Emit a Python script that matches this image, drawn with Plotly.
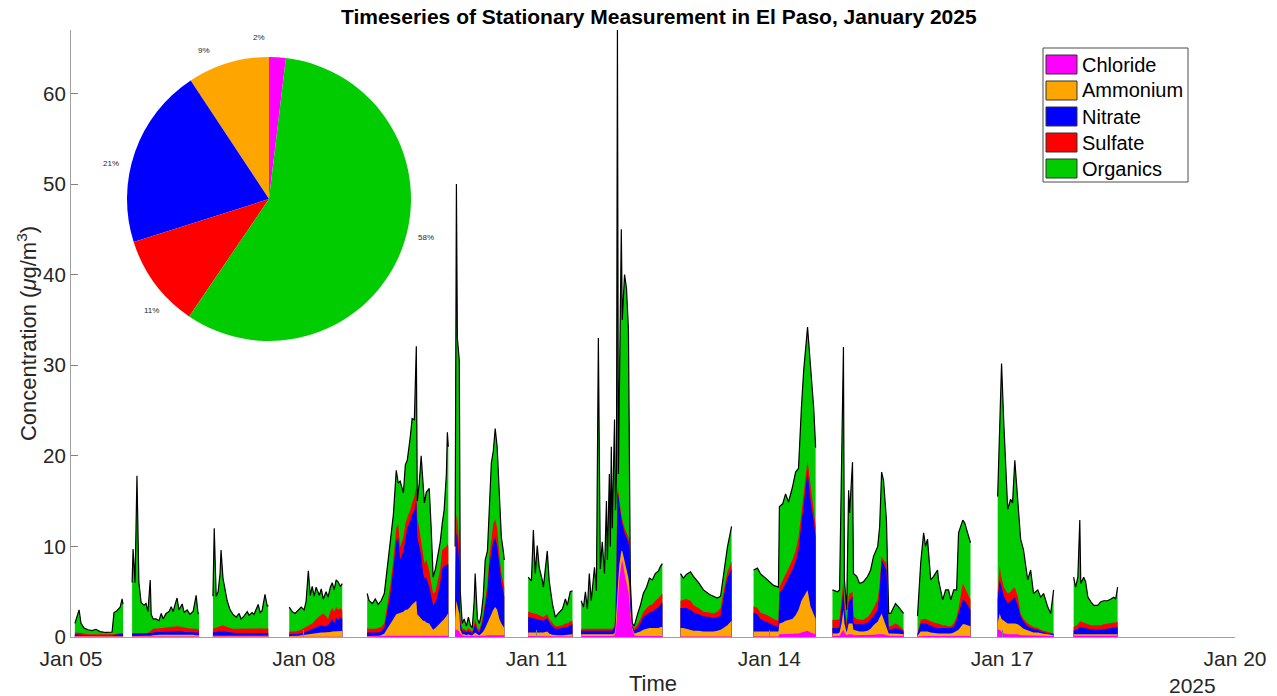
import math
import plotly.graph_objects as go
from datetime import datetime, timedelta

species = ["Chloride", "Ammonium", "Nitrate", "Sulfate", "Organics"]
colors = ["#FF00FF", "#FFA500", "#0000FF", "#FF0000", "#00CC00"]
pie_share = [1.9, 9.3, 20.6, 10.6, 57.6]   # % of mean mass, in species order

X = None  # data gap marker
# hours since 2025-01-05 00:00 (measurement times, segments separated by gaps)
hours = [
    1.2, 2.5, 3.1, 4.0, 5.3, 6.5, 7.7, 9.0, 10.8, 12.7, 13.3, 14.2, 15.2, 15.8, 16.1, X,
    18.9, 19.2, 19.8, 20.4, 21.0, 21.7, 22.6, 23.2, 23.8, 24.5, 24.8, 25.4, 26.3, 27.2, 27.9, 28.5,
    29.4, 30.3, 31.0, 31.6, 32.2, 32.8, 33.4, 34.4, 35.0, 35.9, 36.8, 37.8, 38.7, 39.3, 39.6, X,
    43.9, 44.3, 44.9, 45.5, 46.1, 46.4, 47.0, 47.7, 48.3, 49.2, 50.1, 51.1, 52.0, 52.6, 53.5, 54.5,
    55.1, 56.0, 56.6, 57.3, 57.9, 58.5, 59.1, 60.0, 60.7, 61.0, X,
    67.5, 68.4, 69.3, 70.3, 71.2, 72.1, 72.7, 73.4, 74.0, 74.6, 75.2, 75.8, 76.8, 77.4, 78.0, 78.9,
    79.5, 80.2, 80.8, 81.4, 82.0, 82.6, 83.3, 83.9, X,
    91.6, 92.2, 93.2, 94.1, 95.0, 95.9, 96.9, 97.8, 98.7, 99.7, 100.6, 101.2, 101.8, 102.8, 103.4, 104.0,
    104.9, 105.5, 106.2, 106.8, 107.1, 107.7, 108.3, 108.9, 109.3, 109.9, 110.8, 111.4, 112.0, 112.7,
    113.3, 114.2, 114.8, 115.4, 116.1, 116.4, 116.7, X,
    118.8, 119.2, 119.5, 120.1, 120.4, 121.0, 121.6, 122.3, 122.9, 123.5, 124.1, 124.7, 125.0, 125.7,
    126.3, 126.9, 127.5, 128.1, 128.8, 129.4, 130.0, 130.6, 131.2, 131.8, 132.5, 133.1, 133.7, 134.0, X,
    141.4, 142.4, 143.0, 143.6, 144.2, 144.8, 145.8, 146.1, 147.3, 147.9, 148.9, 149.8, 150.7, 152.0,
    152.9, 153.5, 154.4, 155.1, X,
    157.8, 158.5, 159.1, 159.7, 160.3, 160.9, 161.9, 162.5, 163.1, 163.7, 164.3, 165.0, 165.6, 165.9,
    166.5, 166.8, 167.1, 167.4, 168.1, 168.4, 168.7, 169.0, 169.3, 169.6, 170.2, 170.5, 171.2, 171.8,
    172.4, 172.7, 173.0, 173.6, 174.2, 175.2, 176.1, 177.0, 178.0, 178.9, 179.8, 180.7, 181.7, 182.3, 182.9, X,
    188.5, 189.4, 190.3, 191.6, 192.5, 194.1, 195.6, 197.5, 198.7, 199.9, 200.9, 201.8, 203.0, 204.3, X,
    211.1, 212.3, 213.2, 215.4, 217.3, 218.8, 219.1, 220.1, 221.0, 221.9, 223.1, 224.1, 225.0, 225.9,
    226.6, 227.8, 228.7, 229.7, 230.3, X,
    235.5, 237.1, 237.7, 238.3, 238.9, 239.2, 239.9, 240.5, 240.8, 241.7, 242.0, 243.0, 243.9, 245.1,
    246.4, 247.3, 248.2, 249.5, 250.1, 250.7, 251.3, 252.2, 252.9, 253.5, 255.0, 256.0, 257.5, X,
    261.8, 262.8, 263.7, 264.3, 264.9, 265.9, 266.8, 268.0, 268.3, 269.6, 270.5, 271.4, 272.1, 273.0,
    273.9, 274.5, 275.8, 276.4, 277.3, 278.2, X,
    286.6, 287.2, 287.8, 288.5, 289.7, 290.6, 291.2, 291.9, 292.8, 293.7, 294.6, 295.9, 296.8, 297.7,
    299.0, 299.9, 300.8, 302.1, 303.0, 303.9, X,
    310.1, 310.7, 311.4, 312.0, 312.3, 313.2, 313.8, 314.5, 315.4, 316.3, 317.5, 318.5, 319.4, 320.6,
    321.6, 322.5, 323.1, 323.7,
]

chloride = [
    .05, .05, .05, .04, .03, .03, .03, .02, .02, .02, .02, .02, .02, .02, .02, X,
    .05, .05, .05, .05, .05, .05, .05, .05, .05, .05, .05, .05, .05, .05, .05, .05,
    .05, .05, .05, .05, .05, .05, .05, .05, .05, .05, .05, .05, .05, .05, .05, X,
    .05, .05, .05, .05, .05, .05, .05, .05, .05, .05, .05, .05, .05, .05, .05, .05,
    .05, .05, .05, .05, .05, .05, .05, .05, .05, .05, X,
    .03, .03, .03, .03, .03, .03, .03, .03, .03, .03, .03, .03, .03, .03, .03, .03,
    .03, .03, .03, .03, .03, .03, .03, .03, X,
    .05, .05, .05, .05, .05, .05, .1, .15, .15, .15, .15, .15, .15, .15, .15, .15,
    .15, .15, .15, .15, .15, .15, .15, .15, .15, .15, .15, .15, .1, .1,
    .1, .15, .15, .15, .15, .15, .15, X,
    .8, .8, .8, .6, .4, .2, .1, .1, .1, .1, .1, .1, .1, .1,
    .1, .1, .1, .15, .2, .2, .2, .2, .2, .2, .2, .2, .2, .2, X,
    .1, .1, .1, .1, .1, .1, .1, .1, .1, .1, .05, .05, .05, .05,
    .05, .05, .05, .05, X,
    .1, .1, .1, .1, .1, .1, .1, .1, .1, .1, .1, .1, .1, .1,
    .1, .1, .1, .1, .2, .5, 1.5, 3.0, 5.0, 6.5, 8.0, 8.5, 7.0, 6.0,
    5.0, 4.0, 2.5, .8, .2, .1, .1, .1, .1, .1, .1, .1, .1, .1, .1, X,
    .05, .05, .05, .05, .05, .05, .05, .05, .05, .05, .05, .05, .05, .05, X,
    .05, .05, .05, .05, .05, .05, .3, .3, .3, .3, .35, .4, .4, .5,
    .6, .7, .5, .4, .3, X,
    .1, .1, .15, .5, .8, .5, .2, .3, .3, .3, .2, .2, .2, .2,
    .2, .2, .25, .3, .3, .3, .3, .2, .1, .1, .1, .1, .1, X,
    .05, .1, .1, .1, .1, .1, .1, .1, .1, .1, .1, .1, .1, .1,
    .1, .1, .1, .1, .1, .1, X,
    .8, .8, .6, .4, .3, .3, .3, .3, .3, .2, .2, .2, .2, .2,
    .2, .2, .15, .1, .1, .1, X,
    .15, .15, .15, .15, .15, .15, .15, .15, .15, .15, .15, .15, .15, .15,
    .15, .15, .15, .15,
]

ammonium = [
    .05, .05, .05, .04, .03, .03, .03, .03, .03, .03, .03, .04, .04, .05, .05, X,
    .05, .05, .05, .05, .05, .05, .05, .05, .05, .08, .1, .15, .2, .2, .2, .2,
    .2, .2, .2, .25, .25, .25, .25, .25, .2, .2, .2, .2, .15, .15, .15, X,
    .1, .1, .1, .1, .1, .1, .1, .1, .1, .1, .1, .1, .1, .1, .1, .1,
    .1, .1, .1, .1, .1, .1, .1, .1, .1, .1, X,
    .07, .07, .07, .12, .17, .22, .27, .27, .32, .32, .37, .37, .42, .47, .47, .47,
    .47, .52, .57, .57, .57, .62, .62, .62, X,
    .05, .05, .05, .1, .1, .15, .3, .75, 1.35, 1.85, 2.35, 2.45, 2.55, 2.65, 2.85, 2.85,
    3.15, 3.45, 3.65, 3.85, 2.35, 2.15, 1.85, 1.65, 1.65, 1.45, 1.35, 1.05, .7, .9,
    1.1, 1.35, 1.65, 1.85, 2.15, 2.35, 2.35, X,
    1.2, 3.2, 2.7, 1.9, .4, .1, .2, .1, .2, .1, .1, .3, .4, .2,
    .1, .3, .5, .85, 1.3, 1.8, 2.3, 2.8, 3.1, 2.8, 1.8, 1.3, 1.0, .8, X,
    .4, .4, .4, .4, .4, .4, .4, .4, .5, .3, .2, .15, .15, .15,
    .2, .2, .25, .25, X,
    .2, .2, .2, .2, .2, .2, .2, .2, .2, .2, .2, .2, .2, .2,
    .2, .2, .2, .2, .2, .5, 1.5, 2.5, 1.5, 1.5, 1.5, 1.0, 1.5, 1.5,
    1.5, 1.5, .5, .2, .2, .4, .5, .7, .8, .9, .9, .9, .9, 1.0, 1.0, X,
    .95, .95, .85, .75, .65, .65, .55, .55, .55, .65, .75, .95, 1.25, 1.75, X,
    .55, .55, .55, .55, .55, .55, 1.2, 1.3, 1.5, 1.6, 1.65, 2.0, 2.6, 3.5,
    3.9, 4.5, 2.9, 2.2, 1.7, X,
    .3, .3, .35, 1.0, 2.2, 1.0, .3, 1.2, 1.2, 1.2, .6, .5, .4, .4,
    .5, .7, 1.05, 1.4, 1.9, 2.3, 1.7, 1.0, .3, .3, .3, .25, .2, X,
    .1, .5, .5, .5, .5, .4, .35, .3, .3, .3, .3, .3, .3, .4,
    .6, .7, 1.3, 1.3, 1.2, 1.1, X,
    .7, 1.8, 1.4, 1.4, 1.2, 1.2, 1.2, 1.2, 1.1, 1.0, .7, .5, .4, .3,
    .3, .2, .2, .2, .15, .1, X,
    .15, .15, .15, .2, .2, .15, .15, .15, .15, .15, .15, .15, .15, .15,
    .15, .15, .15, .15,
]

nitrate = [
    .2, .2, .15, .12, .09, .09, .09, .08, .08, .1, .17, .22, .27, .31, .31, X,
    .25, .25, .25, .25, .25, .25, .25, .25, .25, .3, .3, .3, .3, .3, .3, .3,
    .35, .35, .35, .35, .35, .4, .35, .35, .3, .3, .3, .3, .3, .3, .3, X,
    .35, .35, .4, .45, .45, .5, .5, .45, .4, .35, .3, .3, .3, .3, .3, .3,
    .3, .3, .3, .3, .3, .3, .3, .3, .3, .3, X,
    .2, .2, .2, .2, .2, .25, .3, .4, .45, .55, .6, .7, .75, .8, .7, .7,
    .8, 1.15, 1.4, .9, 1.5, 1.25, 1.55, 1.35, X,
    .4, .4, .4, .35, .35, .4, .6, 1.9, 3.0, 5.5, 8.0, 8.4, 5.8, 6.7, 8.0, 9.0,
    9.5, 9.9, 10.2, 11.0, 8.5, 7.7, 7.0, 5.2, 4.7, 4.9, 4.0, 3.3, 2.7, 2.8,
    3.3, 4.5, 5.7, 5.8, 5.7, 5.5, 5.5, X,
    1.5, 7.5, 7.5, 5.5, .7, .4, .4, .3, .4, .3, .2, .6, 1.0, .4,
    .3, .8, 1.4, 2.5, 3.5, 6.0, 7.0, 7.5, 7.7, 7.0, 6.0, 4.5, 3.8, 3.5, X,
    1.7, 1.6, 1.6, 1.5, 1.5, 1.4, 1.3, 1.3, 1.5, 1.2, .9, .7, .7, .8,
    .85, .85, 1.0, 1.1, X,
    .4, .4, .4, .4, .4, .4, .4, .4, .4, .4, .4, .4, .4, .4,
    .4, .4, .4, .4, .6, 1.5, 4.5, 10.5, 9.0, 6.5, 3.5, 3.0, 3.0, 3.5,
    4.0, 4.0, 1.5, .2, .3, .5, .9, 1.4, 1.6, 1.7, 1.8, 2.0, 2.3, 2.5, 2.7, X,
    2.2, 2.2, 2.3, 2.2, 2.0, 1.8, 1.7, 1.6, 1.5, 1.5, 1.5, 3.3, 5.2, 5.7, X,
    2.1, 1.9, 1.4, 1.0, .7, .5, 3.3, 3.7, 4.1, 4.6, 5.4, 5.9, 6.6, 8.5,
    9.9, 13.2, 11.7, 10.2, 9.0, X,
    .6, .6, .6, 1.5, 2.2, 1.5, .5, 2.3, 2.5, 3.0, .7, .7, .8, .8,
    .9, 1.0, 1.0, 1.3, 2.8, 5.9, 6.0, 6.2, .4, .4, .6, .55, .3, X,
    .15, .9, .9, .9, .8, .7, .65, .6, .6, .6, .6, .6, .6, .6,
    1.1, 1.8, 2.7, 2.6, 2.2, 1.8, X,
    2.6, 3.7, 3.5, 2.7, 2.2, 2.5, 2.7, 2.9, 2.1, 1.1, .8, .5, .4, .4,
    .3, .2, .15, .1, .1, .1, X,
    .4, .5, .6, .75, .75, .7, .7, .6, .55, .5, .5, .5, .55, .6,
    .7, .75, .75, .8,
]

sulfate = [
    .2, .2, .2, .2, .15, .15, .15, .12, .12, .1, .08, .07, .07, .07, .07, X,
    .1, .1, .1, .1, .1, .1, .1, .1, .1, .2, .3, .4, .4, .4, .45, .45,
    .45, .5, .5, .55, .55, .5, .5, .45, .45, .4, .4, .4, .4, .35, .35, X,
    .4, .45, .5, .5, .55, .6, .65, .6, .55, .5, .45, .45, .45, .45, .45, .45,
    .5, .5, .5, .5, .5, .5, .5, .5, .5, .5, X,
    .3, .3, .3, .35, .4, .5, .5, .6, .6, .6, .7, .9, 1.1, 1.2, 1.4, 1.1,
    .7, 1.1, 1.2, 1.3, 1.2, 1.1, 1.0, .9, X,
    .5, .4, .4, .4, .5, .5, .5, .7, 1.1, 1.0, 1.5, 1.5, 1.5, 1.5, 1.5, 1.2,
    1.2, 1.3, 1.5, 1.6, 2.0, 2.0, 1.7, 2.0, 1.6, 2.0, 1.8, 1.5, 1.3, 1.2,
    1.4, 1.5, 2.1, 2.0, 2.0, 2.3, 2.0, X,
    1.5, 2.0, 2.0, 2.0, .5, .2, .2, .2, .3, .3, .2, .5, .5, .3,
    .3, .3, .5, .5, 1.0, 1.0, 1.5, 2.0, 2.0, 2.0, 1.0, 1.0, 1.0, 1.0, X,
    .6, .6, .6, .6, .5, .5, .5, .4, .4, .4, .4, .3, .3, .3,
    .4, .4, .4, .4, X,
    .2, .2, .2, .2, .2, .2, .2, .2, .2, .2, .2, .2, .2, .2,
    .2, .2, .2, .2, .2, .5, .5, .5, .5, .5, .5, .5, .5, .5,
    .5, .5, .5, .1, .2, .4, .5, .6, .7, .8, .8, 1.0, 1.0, 1.0, 1.0, X,
    .8, .9, 1.0, 1.0, .8, .7, .5, .5, .5, .6, .9, .7, .7, .8, X,
    .7, .7, .7, .8, .7, .7, .7, .9, 1.1, 1.1, 1.1, 1.2, 1.4, 1.5,
    1.4, 1.1, 1.5, 1.2, 1.2, X,
    .9, .9, .9, 1.0, 1.1, 1.0, .5, .7, .8, .5, .8, .6, .5, .5,
    .6, .7, .9, 1.1, 1.0, .4, .5, .8, .4, .4, .5, .4, .2, X,
    .1, .4, .5, .5, .5, .5, .5, .5, .5, .3, .3, .2, .2, .4,
    .4, .6, 1.8, 1.5, 1.3, 1.1, X,
    .7, 1.5, 1.0, 1.0, 1.1, 1.0, 1.1, 1.1, 1.0, .3, .3, .3, .3, .2,
    .2, .2, .2, .2, .15, .1, X,
    .4, .4, .5, .6, .6, .6, .5, .5, .45, .5, .5, .5, .55, .6,
    .5, .55, .55, .6,
]

organics = [
    1.0, 2.5, 1.05, .6, .5, .4, .55, .35, .25, .3, 2.4, 2.55, 2.9, 3.75, 3.15, X,
    5.55, 9.25, 5.55, 17.35, 5.55, 3.35, 3.05, 3.25, 2.35, 5.67, 1.75, 1.1, 1.05, .85, 1.6, 1.0,
    1.55, 1.7, 2.25, 1.6, 2.4, 3.1, 1.85, 2.55, 1.7, 2.05, 1.55, 1.9, 3.7, 1.75, 1.75, X,
    3.6, 11.05, 3.45, 3.9, 5.85, 8.35, 5.2, 3.8, 2.9, 2.0, 1.6, 1.3, 1.7, 1.1, 1.4, 1.9,
    1.45, 1.75, 1.55, 2.15, 2.65, 1.75, 1.95, 3.75, 2.45, 2.55, X,
    2.7, 2.2, 2.0, 2.3, 2.5, 2.0, 2.8, 6.0, 3.2, 4.1, 2.8, 3.5, 2.3, 2.8, 1.6, 2.7,
    2.4, 2.7, 2.8, 2.4, 3.0, 3.1, 2.4, 3.0, X,
    3.8, 3.1, 2.8, 3.3, 2.6, 2.9, 3.3, 4.0, 4.3, 5.0, 6.4, 4.5, 7.2, 4.9, 6.5, 6.3,
    8.0, 9.3, 8.5, 15.5, 2.0, 5.0, 9.3, 7.5, 6.7, 7.5, 9.1, 6.0, 1.8, 2.5,
    2.9, 3.0, 2.9, 4.2, 8.0, 12.3, 11.0, X,
    5.0, 36.5, 20.0, 20.5, 3.0, .6, 1.1, .5, 1.2, .5, .4, 2.5, 5.0, 1.0,
    .7, 1.0, 2.0, 4.5, 3.5, 5.0, 8.2, 8.0, 10.0, 9.0, 6.0, 4.0, 3.5, 3.0, X,
    3.8, 3.5, 9.1, 4.4, 7.6, 5.3, 3.9, 3.3, 7.0, 4.2, 2.1, 1.0, 1.4, 1.8,
    2.7, 2.0, 3.3, 3.3, X,
    3.1, 2.4, 4.1, 2.2, 6.1, 3.1, 6.8, 4.2, 32.1, 6.6, 9.6, 6.1, 14.1, 7.6,
    17.1, 9.1, 20.1, 11.1, 22.8, 11.0, 10.0, 50.5, 2.0, 13.0, 31.5, 22.0, 28.0, 27.0,
    23.0, 10.0, 1.0, .2, .3, 1.1, 1.5, 2.0, 2.3, 3.0, 2.7, 3.0, 3.0, 3.2, 3.3, X,
    3.0, 2.4, 2.7, 3.2, 3.2, 2.8, 2.4, 2.0, 1.9, 1.5, 1.3, 2.0, 2.7, 3.9, X,
    4.0, 4.4, 4.3, 3.9, 3.7, 3.7, 8.9, 8.5, 8.8, 7.3, 8.0, 8.7, 7.6, 11.3,
    13.6, 14.7, 13.5, 11.3, 8.7, X,
    3.3, 3.1, 3.2, 15.9, 25.7, 2.3, 1.5, 11.7, 8.9, 14.3, 4.7, 4.7, 4.0, 4.2,
    4.5, 4.8, 5.7, 5.9, 6.2, 9.3, 8.8, 4.7, 1.4, 1.4, 2.2, 2.0, 1.8, X,
    1.9, 6.3, 9.5, 8.0, 8.9, 4.6, 5.1, 5.9, 4.8, 2.8, 3.9, 4.0, 2.9, 3.7,
    3.0, 8.3, 7.0, 7.1, 6.7, 6.3, X,
    10.7, 15.8, 23.7, 18.1, 9.3, 10.2, 9.5, 14.0, 10.7, 8.2, 7.6, 4.8, 6.1, 3.7,
    4.2, 3.6, 4.1, 2.7, 2.1, 4.8, X,
    5.5, 4.3, 5.2, 11.2, 4.2, 5.0, 4.6, 3.0, 2.6, 2.2, 2.2, 2.6, 2.6, 2.5,
    2.7, 2.8, 2.6, 3.8,
]

x_ticks = ["2025-01-05", "2025-01-08", "2025-01-11", "2025-01-14", "2025-01-17", "2025-01-20"]
y_ticks = [0, 10, 20, 30, 40, 50, 60]

# ---------------------------------------------------------------- build
t0 = datetime(2025, 1, 5)
n = len(hours)
layers = [chloride, ammonium, nitrate, sulfate, organics]
for arr in layers:
    assert len(arr) == n, (len(arr), n)

# stacked tops (cumulative sums, bottom layer first)
cum = []
running = [0.0] * n
for arr in layers:
    running = [None if (r is None or v is None) else r + v for r, v in zip(running, arr)]
    cum.append(running)

# contiguous measurement segments (split at the gap markers)
segments, start = [], 0
for i, h in enumerate(hours + [None]):
    if h is None:
        if i > start:
            segments.append((start, i))
        start = i + 1

def seg_times(a, b):
    return [t0 + timedelta(hours=h) for h in hours[a:b]]

FONT = "Liberation Sans, Arial, Helvetica, sans-serif"
TXT = "#262626"
fig = go.Figure()
for k in reversed(range(len(species))):
    for a, b in segments:
        fig.add_trace(go.Scatter(
            x=seg_times(a, b), y=cum[k][a:b], name=species[k], mode="lines",
            fill="tozeroy", fillcolor=colors[k], line=dict(width=0, color=colors[k]),
            showlegend=False, hoverinfo="skip"))
for a, b in segments:
    fig.add_trace(go.Scatter(x=seg_times(a, b), y=cum[-1][a:b], mode="lines",
                             line=dict(color="black", width=1.2),
                             showlegend=False, hoverinfo="skip"))

# plot-area geometry (pixels) for placing inset & legend
W, H = 1277, 696
L, R, T, B = 71, 42, 30, 59
pw, ph = W - L - R, H - T - B
def px(x): return (x - L) / pw
def py(y): return (H - B - y) / ph

# inset pie (share of each species)
PCX, PCY, PR = 269, 199, 142
fig.add_trace(go.Pie(
    values=pie_share, labels=species, sort=False, direction="counterclockwise",
    rotation=0, marker=dict(colors=colors, line=dict(width=0)),
    textinfo="none", showlegend=False,
    domain=dict(x=[px(PCX - PR), px(PCX + PR)], y=[py(PCY + PR), py(PCY - PR)]),
    hoverinfo="skip"))

shapes, annos = [], []
# percentage labels just outside each slice (mid-angle, counter-clockwise from 12 o'clock)
tot = sum(pie_share)
acc = 0.0
for v in pie_share:
    mid = (acc + v / 2) / tot * 2 * math.pi
    acc += v
    lx = PCX - 1.14 * PR * math.sin(mid)
    ly = PCY - 1.14 * PR * math.cos(mid)
    annos.append(dict(text=f"{round(v / tot * 100)}%", xref="paper", yref="paper",
                      x=px(lx), y=py(ly), xanchor="center", yanchor="middle",
                      showarrow=False, font=dict(size=8, color=TXT, family=FONT)))

# legend box
shapes.append(dict(type="rect", xref="paper", yref="paper", x0=px(1043), x1=px(1188),
                   y0=py(182), y1=py(48), line=dict(color="#4d4d4d", width=1),
                   fillcolor="white", layer="above"))
for i, (nm, c) in enumerate(zip(species, colors)):
    yc = 64.5 + 26 * i
    shapes.append(dict(type="rect", xref="paper", yref="paper", x0=px(1046), x1=px(1077),
                       y0=py(yc + 9.5), y1=py(yc - 9.5), fillcolor=c,
                       line=dict(color="#333333", width=1), layer="above"))
    annos.append(dict(text=nm, xref="paper", yref="paper", x=px(1080), y=py(yc),
                      xanchor="left", yanchor="middle", showarrow=False,
                      font=dict(size=20, color="black", family=FONT)))
annos.append(dict(text="2025", xref="paper", yref="paper", x=px(1192), y=py(685),
                  xanchor="center", yanchor="middle", showarrow=False,
                  font=dict(size=21, color=TXT, family=FONT)))

fig.update_layout(
    width=W, height=H, margin=dict(l=L, r=R, t=T, b=B),
    paper_bgcolor="white", plot_bgcolor="white",
    font=dict(family=FONT, size=20, color=TXT),
    title=dict(text="<b>Timeseries of Stationary Measurement in El Paso, January 2025</b>",
               x=0.505, xref="paper", y=1 - 17 / H, yref="container",
               xanchor="center", yanchor="middle",
               font=dict(size=21, color="black", family=FONT)),
    xaxis=dict(type="date", range=[x_ticks[0], x_ticks[-1]], tickvals=x_ticks,
               tickformat="%b %d", ticks="inside", ticklen=7, tickcolor="#808080",
               showline=True, linecolor="#a0a0a0", linewidth=1, showgrid=False,
               zeroline=False, tickfont=dict(size=21, color=TXT), ticklabelstandoff=3,
               automargin=False,
               title=dict(text="Time", standoff=7, font=dict(size=22, color=TXT))),
    yaxis=dict(range=[0, 67], tickvals=y_ticks, ticks="inside", ticklen=7,
               tickcolor="#808080", showline=True, linecolor="#a0a0a0", linewidth=1,
               showgrid=False, zeroline=False, tickfont=dict(size=20.5, color=TXT),
               automargin=False,
               title=dict(text="Concentration (<i>μ</i>g/m<sup>3</sup>)", standoff=0,
                          font=dict(size=22, color=TXT))),
    shapes=shapes, annotations=annos, showlegend=False,
)

fig.write_html("out.html")
